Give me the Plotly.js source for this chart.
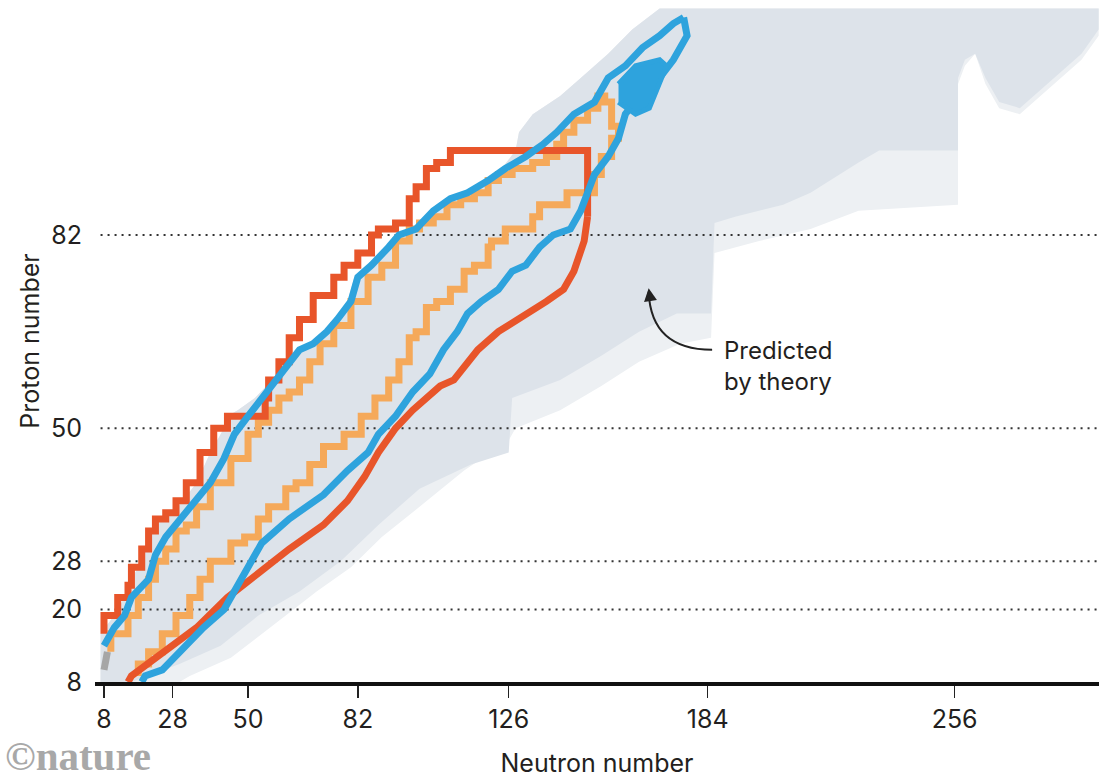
<!DOCTYPE html>
<html>
<head>
<meta charset="utf-8">
<script src="https://cdn.plot.ly/plotly-3.0.1.min.js"></script>
<style>html,body{margin:0;padding:0;background:#fff;}#chart{width:1099px;height:778px;}</style>
</head>
<body>
<div id="chart"></div>
<script>
// ---- axes ----
const xTickVals = [8, 28, 50, 82, 126, 184, 256];
const yTickVals = [8, 20, 28, 50, 82];
const magicNumbers = [20, 28, 50, 82];
const xRange = [5.38, 298.1];
const yRange = [8, 120.9];

// ---- region predicted by theory ----
// proton-rich edge (bottom -> top, then along the top)
const theoryProtonEdgeN = [7,7,11,14,15,18,20,22,25,28,31,35,39,43,44,47,52,57,61,64,68,72,75,79,81,85,90,93,98,103,108,113,119,124,128,129,133,141,147,155,162,169,170,298];
const theoryProtonEdgeZ = [8,16,19,22,24,27,30,33,35,36,38,41,46,50,52,53,55,58,61,63,64,66,68,71,75,77,80,82,83,86,88,89,91,93,96,99,102,105,108,112,116,119,119.5,119.5];
// neutron-rich edge, outer (partly covered) limit, right -> left
const theoryOuterEdgeN = [298,293,287,281,275,269,265,262,259,257,257,228,214,199,186,185,176,164,153,141,128,126,113,100,89,80,70,61,54,45,33,30];
const theoryOuterEdgeZ = [115,111,108,105,102,103,107,112,110,107,87,86,83,81,79,65,64,61,57,53,50,48,43,37,32,27,23,19,16,12,9,8];
// neutron-rich edge, solid limit, right -> left
const theoryInnerEdgeN = [298,293,287,281,275,269,265,262,259,257,257,234,228,214,206,192,186,185,175,164,153,141,127,126,115,100,88,77,65,53,42,30,16];
const theoryInnerEdgeZ = [116,112,109,106,103,104,108,112,111,108,96,96,94,89,87,85,84,69,69,66,62,58,55,46,44,40,34,28,23,19,14,11,8];

// ---- measured / model limits ----
const redUpperN = [8,12,15,16,19,21,23,26,29,32,36,40,44,45,55,56,59,62,65,69,75,78,82,86,88,93,97,99,102,105,109,112,149,149];
const redUpperZ = [16,19,22,24,27,30,33,35,36,38,41,46,50,52,52,55,58,61,65,68,72,75,77,79,82,83,84,88,90,93,94,96,96,85];
const redLowerN = [149,148,145,142,137,131,123,117,110,106,98,93,88,84,79,72,62,53,44,35,28,21,16,15];
const redLowerZ = [85,81,76,73,71,69,66,63,58,57,53,50,46,42,38,34,30,26,22,17,14,11,9,8];

const blueUpperN = [8,11,14,16,21,23,26,29,32,35,39,43,46,50,54,58,62,65,69,73,76,80,82,86,91,94,99,104,109,114,120,125,131,136,140,145,151,155,160,165,170,174,177];
const blueUpperZ = [14,17,19,22,25,29,32,34,36,38,41,45,49,52,55,58,61,63,64,66,68,71,75,77,80,82,83,86,88,89,91,93,95,97,99,102,104,108,110,113,115,117,118];
const blueLowerN = [177,178,174,170,164,160,158,155,151,148,147,144,139,135,131,127,123,118,114,111,107,103,98,93,88,85,79,72,65,62,54,51,48,43,37,30,25,20,19];
const blueLowerZ = [118,115,111,108,105,102,98,95,92,88,86,83,82,80,77,76,73,71,69,66,63,59,56,52,49,46,43,39,36,35,31,28,25,20,17,13,10,9,8];
const blueBlobN = [158,163,170,172,167,163,158];
const blueBlobZ = [107,110,111,110,103,102,104];

const orangeUpperN = [10,15,18,21,23,26,29,32,35,39,45,50,53,56,59,62,65,68,71,75,80,85,89,93,97,100,104,108,112,116,120,123,127,133,137,140,142,145,149,152,154,156,158,156,153,151,148];
const orangeUpperZ = [13,16,19,22,25,28,30,33,34,37,41,45,49,51,53,55,56,58,61,64,67,71,75,77,81,83,84,85,87,88,89,91,92,93,94,95,97,99,101,103,105,104,100,98,95,92,89];
const orangeLowerN = [148,147,143,139,135,133,129,125,121,120,116,113,109,105,102,99,97,94,91,87,83,78,72,68,64,61,56,53,49,45,39,36,33,29,25,21,18];
const orangeLowerZ = [89,89,87,87,85,83,83,81,80,77,76,73,71,70,66,65,61,58,55,52,49,47,44,41,40,37,35,32,31,28,25,22,19,16,13,11,9];

const greyN = [8, 9];
const greyZ = [10, 13];

// annotation arrow (curved) and label
const arrowStart = [185.3, 63.0];
const arrowCtrl = [167.5, 63.0];
const arrowTip = [166.8, 72.6];
const labelPos = [188.2, 60.3];

// ---- colours ----
const C = {
  solid: '#dde3ea', hatch: '#edf0f3', red: '#e8552a', blue: '#2ea3dd',
  orange: '#f5a95a', grey: '#a6a6a6', text: '#231f20'
};

const traces = [];
traces.push({x: theoryProtonEdgeN.concat(theoryOuterEdgeN), y: theoryProtonEdgeZ.concat(theoryOuterEdgeZ),
  mode: 'lines', fill: 'toself', fillcolor: C.hatch, line: {width: 0, color: C.hatch}, hoverinfo: 'skip'});
traces.push({x: theoryProtonEdgeN.concat(theoryInnerEdgeN), y: theoryProtonEdgeZ.concat(theoryInnerEdgeZ),
  mode: 'lines', fill: 'toself', fillcolor: C.solid, line: {width: 0, color: C.solid}, hoverinfo: 'skip'});
magicNumbers.forEach(m => {
  traces.push({x: [7, xRange[1]], y: [m, m], mode: 'lines',
    line: {color: '#333', width: 2, dash: '2px,5px'}, hoverinfo: 'skip'});
});
traces.push({x: greyN, y: greyZ, mode: 'lines', line: {color: C.grey, width: 7}});
traces.push({x: orangeUpperN, y: orangeUpperZ, mode: 'lines', line: {color: C.orange, width: 7, shape: 'vh'}});
traces.push({x: orangeLowerN, y: orangeLowerZ, mode: 'lines', line: {color: C.orange, width: 7, shape: 'hv'}});
traces.push({x: redUpperN, y: redUpperZ, mode: 'lines', line: {color: C.red, width: 7, shape: 'vh'}});
traces.push({x: redLowerN, y: redLowerZ, mode: 'lines', line: {color: C.red, width: 7}});
traces.push({x: blueUpperN, y: blueUpperZ, mode: 'lines', line: {color: C.blue, width: 7}});
traces.push({x: blueLowerN, y: blueLowerZ, mode: 'lines', line: {color: C.blue, width: 7}});
traces.push({x: blueBlobN, y: blueBlobZ, mode: 'lines', fill: 'toself', fillcolor: C.blue, line: {color: C.blue, width: 5}});

const FONT = 'Inter, "Noto Sans", sans-serif';

const layout = {
  width: 1099, height: 778,
  margin: {l: 95, r: 0, t: 0, b: 96},
  paper_bgcolor: '#fff', plot_bgcolor: '#fff',
  showlegend: false,
  font: {family: FONT, color: C.text, size: 25},
  xaxis: {
    range: xRange, tickvals: xTickVals, ticktext: xTickVals.map(String),
    ticks: 'outside', ticklen: 12, tickwidth: 1.5, tickcolor: '#222',
    showline: true, linewidth: 4, linecolor: '#111', showgrid: false, zeroline: false,
    tickfont: {size: 25, color: C.text, family: FONT},
    title: {text: 'Neutron number', font: {size: 25, color: C.text, family: FONT}, standoff: 22}
  },
  yaxis: {
    range: yRange, tickvals: yTickVals, ticktext: yTickVals.map(String),
    ticks: '', showline: false, showgrid: false, zeroline: false, ticklabelstandoff: 12,
    tickfont: {size: 25, color: C.text, family: FONT},
    title: {text: 'Proton number', font: {size: 25, color: C.text, family: FONT}, standoff: 4}
  },
  shapes: [{
    type: 'path', xref: 'x', yref: 'y',
    path: `M ${arrowStart[0]},${arrowStart[1]} Q ${arrowCtrl[0]},${arrowCtrl[1]} ${arrowTip[0]},${arrowTip[1]}`,
    line: {color: '#222', width: 2}
  }],
  annotations: [
    {x: arrowTip[0], y: arrowTip[1] + 0.6, xref: 'x', yref: 'y', ax: 2, ay: 14, text: '', showarrow: true,
     arrowhead: 2, arrowsize: 1.3, arrowwidth: 2, arrowcolor: '#222'},
    {x: labelPos[0], y: labelPos[1], xref: 'x', yref: 'y', xanchor: 'left', yanchor: 'middle', align: 'left',
     text: 'Predicted<br>by theory', showarrow: false, font: {size: 24, color: C.text, family: FONT}},
    {x: -92/1004, y: -74/682, xref: 'paper', yref: 'paper', xanchor: 'left', yanchor: 'middle',
     text: '<b>©nature</b>', showarrow: false, font: {size: 41, color: '#a8a8a8', family: '"Liberation Serif", "DejaVu Serif", serif'}}
  ]
};

Plotly.newPlot('chart', traces, layout, {staticPlot: true, displayModeBar: false});
</script>
</body>
</html>
